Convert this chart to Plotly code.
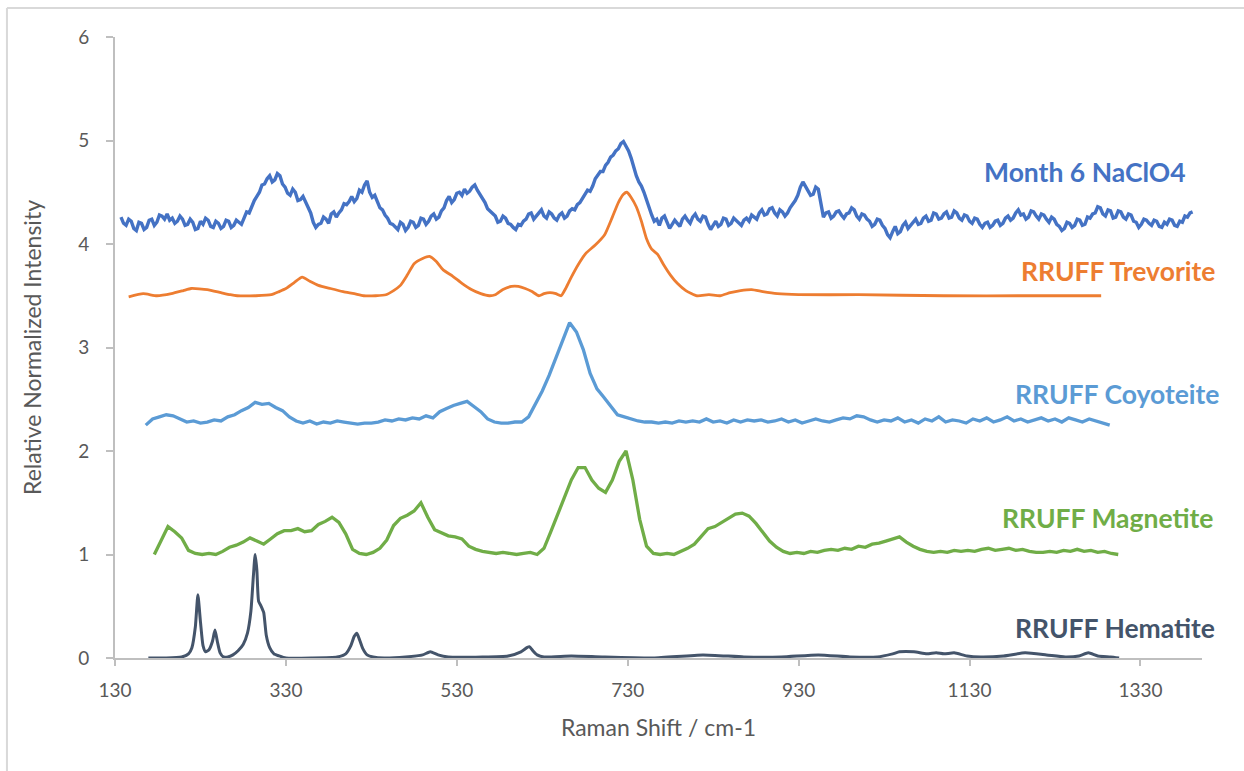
import numpy as np
import plotly.graph_objects as go

# ---------------- data ----------------
# Month 6 NaClO4 (sampled every 3 cm-1 from 137)
month6_x = list(range(137, 1392, 3))
month6_y = [
    4.26, 4.20, 4.18, 4.24, 4.22, 4.15, 4.13, 4.21, 4.20, 4.14, 4.16, 4.23, 4.24, 4.18, 4.21, 4.28, 4.27, 4.24, 4.29, 4.23,
    4.25, 4.20, 4.22, 4.27, 4.24, 4.18, 4.19, 4.24, 4.21, 4.14, 4.15, 4.22, 4.19, 4.25, 4.23, 4.17, 4.16, 4.22, 4.20, 4.15,
    4.17, 4.23, 4.22, 4.16, 4.18, 4.23, 4.21, 4.19, 4.25, 4.31, 4.30, 4.37, 4.42, 4.46, 4.50, 4.57, 4.58, 4.63, 4.66, 4.60,
    4.62, 4.68, 4.66, 4.58, 4.55, 4.49, 4.47, 4.53, 4.50, 4.42, 4.43, 4.46, 4.40, 4.36, 4.30, 4.21, 4.16, 4.19, 4.20, 4.26,
    4.24, 4.20, 4.29, 4.31, 4.26, 4.30, 4.33, 4.39, 4.38, 4.41, 4.46, 4.41, 4.44, 4.52, 4.50, 4.57, 4.61, 4.50, 4.45, 4.47,
    4.40, 4.35, 4.33, 4.28, 4.25, 4.20, 4.19, 4.17, 4.14, 4.21, 4.19, 4.13, 4.16, 4.22, 4.21, 4.16, 4.18, 4.25, 4.24, 4.19,
    4.22, 4.27, 4.29, 4.24, 4.26, 4.32, 4.35, 4.42, 4.46, 4.40, 4.43, 4.49, 4.50, 4.47, 4.53, 4.49, 4.51, 4.55, 4.57, 4.52,
    4.48, 4.45, 4.40, 4.34, 4.32, 4.29, 4.27, 4.21, 4.22, 4.27, 4.25, 4.20, 4.19, 4.16, 4.14, 4.19, 4.18, 4.22, 4.24, 4.29,
    4.30, 4.24, 4.27, 4.31, 4.33, 4.27, 4.25, 4.31, 4.29, 4.25, 4.23, 4.28, 4.30, 4.25, 4.27, 4.32, 4.34, 4.33, 4.38, 4.40,
    4.44, 4.49, 4.52, 4.51, 4.56, 4.63, 4.66, 4.70, 4.70, 4.76, 4.79, 4.84, 4.86, 4.90, 4.92, 4.97, 4.99, 4.95, 4.90, 4.83,
    4.74, 4.66, 4.60, 4.56, 4.50, 4.42, 4.36, 4.28, 4.22, 4.24, 4.18, 4.25, 4.27, 4.20, 4.15, 4.19, 4.23, 4.20, 4.17, 4.24,
    4.27, 4.23, 4.20, 4.26, 4.29, 4.24, 4.22, 4.27, 4.26, 4.19, 4.14, 4.18, 4.22, 4.17, 4.19, 4.25, 4.24, 4.18, 4.20, 4.25,
    4.23, 4.20, 4.18, 4.23, 4.25, 4.22, 4.28, 4.26, 4.24, 4.30, 4.33, 4.28, 4.29, 4.34, 4.35, 4.30, 4.27, 4.33, 4.31, 4.27,
    4.30, 4.35, 4.38, 4.42, 4.47, 4.55, 4.60, 4.56, 4.52, 4.47, 4.48, 4.55, 4.53, 4.38, 4.26, 4.30, 4.31, 4.25, 4.27, 4.31,
    4.32, 4.28, 4.25, 4.29, 4.30, 4.35, 4.33, 4.27, 4.24, 4.29, 4.28, 4.24, 4.22, 4.17, 4.19, 4.24, 4.23, 4.18, 4.15, 4.09,
    4.06, 4.12, 4.17, 4.10, 4.12, 4.18, 4.21, 4.15, 4.18, 4.22, 4.24, 4.19, 4.20, 4.25, 4.27, 4.22, 4.23, 4.30, 4.29, 4.24,
    4.25, 4.29, 4.31, 4.25, 4.26, 4.32, 4.30, 4.25, 4.23, 4.28, 4.27, 4.22, 4.20, 4.25, 4.24, 4.19, 4.16, 4.20, 4.21, 4.16,
    4.18, 4.22, 4.23, 4.18, 4.20, 4.25, 4.27, 4.23, 4.25, 4.30, 4.33, 4.28, 4.29, 4.24, 4.26, 4.32, 4.31, 4.27, 4.24, 4.29,
    4.28, 4.24, 4.21, 4.26, 4.24, 4.19, 4.17, 4.13, 4.15, 4.21, 4.20, 4.16, 4.18, 4.24, 4.23, 4.18, 4.19, 4.26, 4.25, 4.29,
    4.30, 4.36, 4.35, 4.29, 4.27, 4.33, 4.32, 4.25, 4.26, 4.32, 4.31, 4.26, 4.24, 4.29, 4.28, 4.22, 4.21, 4.16, 4.19, 4.24,
    4.23, 4.20, 4.18, 4.23, 4.22, 4.17, 4.16, 4.21, 4.19, 4.24, 4.23, 4.18, 4.17, 4.22, 4.21, 4.27, 4.26, 4.30, 4.31,
]

# RRUFF Trevorite
trevorite_x = [146, 163, 179, 196, 210, 219, 238, 254, 265, 273, 295, 313, 322, 330, 340,
               349, 358, 368, 382, 397, 410, 421, 435, 447, 456, 464, 472, 480, 490, 498,
               506, 514, 525, 536, 547, 558, 568, 575, 584, 594, 602, 610, 618, 626, 632,
               639, 646, 652, 658, 664, 672, 681, 692, 703, 712, 719, 725, 729, 734, 740,
               746, 752, 758, 765, 772, 780, 788, 798, 811, 825, 838, 850, 862, 875, 888,
               905, 930, 1000, 1100, 1200, 1284]
trevorite_y = [3.49, 3.52, 3.50, 3.52, 3.55, 3.57, 3.56, 3.53, 3.51, 3.50, 3.50, 3.51, 3.54, 3.57, 3.63,
               3.68, 3.64, 3.60, 3.57, 3.54, 3.52, 3.50, 3.50, 3.51, 3.55, 3.60, 3.70, 3.81, 3.86, 3.88,
               3.83, 3.75, 3.69, 3.62, 3.56, 3.52, 3.50, 3.51, 3.56, 3.59, 3.59, 3.57, 3.54, 3.50, 3.52,
               3.53, 3.52, 3.50, 3.58, 3.68, 3.80, 3.91, 3.99, 4.09, 4.26, 4.40, 4.48, 4.50, 4.45, 4.36,
               4.22, 4.05, 3.95, 3.90, 3.80, 3.70, 3.62, 3.55, 3.50, 3.51, 3.50, 3.53, 3.55, 3.56, 3.54,
               3.52, 3.51, 3.51, 3.50, 3.50, 3.50]

# RRUFF Coyoteite (sampled every 8 cm-1 from 166)
coyoteite_x = list(range(166, 1295, 8))
coyoteite_y = [
    2.25, 2.31, 2.33, 2.35, 2.34, 2.31, 2.28, 2.29, 2.27, 2.28,
    2.30, 2.29, 2.33, 2.35, 2.39, 2.42, 2.47, 2.45, 2.46, 2.42,
    2.39, 2.33, 2.29, 2.27, 2.29, 2.26, 2.28, 2.27, 2.29, 2.28,
    2.27, 2.26, 2.27, 2.27, 2.28, 2.30, 2.29, 2.31, 2.30, 2.32,
    2.31, 2.34, 2.32, 2.38, 2.41, 2.44, 2.46, 2.48, 2.43, 2.38,
    2.31, 2.28, 2.27, 2.27, 2.28, 2.28, 2.33, 2.45, 2.58, 2.73,
    2.90, 3.07, 3.24, 3.15, 2.98, 2.75, 2.60, 2.52, 2.44, 2.35,
    2.33, 2.31, 2.29, 2.28, 2.28, 2.27, 2.28, 2.27, 2.29, 2.28,
    2.29, 2.28, 2.31, 2.28, 2.29, 2.27, 2.30, 2.28, 2.30, 2.29,
    2.30, 2.28, 2.29, 2.31, 2.28, 2.30, 2.27, 2.29, 2.31, 2.29,
    2.28, 2.30, 2.32, 2.31, 2.34, 2.33, 2.30, 2.28, 2.30, 2.29,
    2.32, 2.28, 2.30, 2.27, 2.31, 2.29, 2.33, 2.28, 2.30, 2.29,
    2.27, 2.31, 2.29, 2.32, 2.28, 2.30, 2.33, 2.29, 2.31, 2.28,
    2.30, 2.32, 2.29, 2.31, 2.28, 2.32, 2.30, 2.28, 2.31, 2.29,
    2.27, 2.25,
]

# RRUFF Magnetite (sampled every 8 cm-1 from 176)
magnetite_x = list(range(176, 1305, 8))
magnetite_y = [
    1.00, 1.14, 1.27, 1.22, 1.16, 1.04, 1.01, 1.00, 1.01, 1.00,
    1.03, 1.07, 1.09, 1.12, 1.16, 1.13, 1.10, 1.15, 1.20, 1.23,
    1.23, 1.25, 1.22, 1.23, 1.29, 1.32, 1.36, 1.31, 1.20, 1.05,
    1.01, 1.00, 1.02, 1.06, 1.14, 1.28, 1.35, 1.38, 1.42, 1.50,
    1.36, 1.24, 1.21, 1.18, 1.17, 1.15, 1.08, 1.05, 1.03, 1.02,
    1.01, 1.02, 1.01, 1.00, 1.01, 1.02, 1.00, 1.06, 1.22, 1.38,
    1.56, 1.72, 1.84, 1.84, 1.72, 1.64, 1.60, 1.72, 1.90, 2.00,
    1.72, 1.34, 1.08, 1.01, 1.00, 1.01, 1.00, 1.03, 1.06, 1.10,
    1.18, 1.25, 1.27, 1.31, 1.35, 1.39, 1.40, 1.37, 1.30, 1.21,
    1.13, 1.07, 1.03, 1.01, 1.02, 1.01, 1.03, 1.02, 1.04, 1.05,
    1.04, 1.06, 1.05, 1.08, 1.07, 1.10, 1.11, 1.13, 1.15, 1.17,
    1.12, 1.08, 1.05, 1.03, 1.02, 1.03, 1.02, 1.04, 1.03, 1.04,
    1.03, 1.05, 1.06, 1.04, 1.05, 1.06, 1.04, 1.05, 1.03, 1.02,
    1.02, 1.03, 1.02, 1.04, 1.03, 1.05, 1.03, 1.04, 1.02, 1.03,
    1.01, 1.00,
]

# RRUFF Hematite
hematite_x = [169, 190, 208, 216, 220, 224, 227, 230, 233, 236, 240, 244, 247, 250, 253,
              257, 262, 268, 274, 280, 285, 289, 292, 294, 296, 298, 301, 304, 307, 311,
              316, 322, 330, 360, 390, 400, 406, 410, 413, 416, 420, 425, 432, 445, 470,
              490, 499, 508, 520, 560, 590, 605, 612, 615, 619, 624, 632, 664, 700, 760,
              818, 866, 910, 953, 990, 1022, 1040, 1048, 1065, 1080, 1091, 1100, 1112, 1127, 1143,
              1170, 1195, 1220, 1242, 1258, 1269, 1280, 1295, 1305]
hematite_y = [0.00, 0.00, 0.01, 0.04, 0.10, 0.30, 0.61, 0.35, 0.12, 0.06, 0.08, 0.16, 0.27, 0.15, 0.05,
              0.01, 0.01, 0.03, 0.07, 0.13, 0.24, 0.45, 0.80, 1.00, 0.85, 0.55, 0.50, 0.44, 0.22, 0.10,
              0.04, 0.02, 0.00, 0.00, 0.01, 0.04, 0.12, 0.21, 0.24, 0.18, 0.09, 0.03, 0.01, 0.00, 0.01,
              0.03, 0.06, 0.03, 0.01, 0.01, 0.02, 0.06, 0.10, 0.11, 0.07, 0.03, 0.01, 0.02, 0.01, 0.00,
              0.03, 0.01, 0.01, 0.03, 0.01, 0.01, 0.04, 0.06, 0.06, 0.04, 0.05, 0.04, 0.05, 0.02, 0.01,
              0.02, 0.05, 0.03, 0.01, 0.02, 0.05, 0.02, 0.01, 0.00]

x_ticks = [130, 330, 530, 730, 930, 1130, 1330]
y_ticks = [0, 1, 2, 3, 4, 5, 6]

labels = ["Month 6 NaClO4", "RRUFF Trevorite", "RRUFF Coyoteite", "RRUFF Magnetite", "RRUFF Hematite"]

# ---------------- figure ----------------
FONT = "Lato, 'Open Sans', sans-serif"
GREY = "#595959"
AXC = "#BFBFBF"

series = [
    (month6_x, month6_y, "#4472C4", 3.4, "linear"),
    (trevorite_x, trevorite_y, "#ED7D31", 2.8, "spline"),
    (coyoteite_x, coyoteite_y, "#5B9BD5", 3.3, "linear"),
    (magnetite_x, magnetite_y, "#70AD47", 3.3, "linear"),
    (hematite_x, hematite_y, "#44546A", 3.0, "spline"),
]

fig = go.Figure()
for (xs, ys, col, w, shp), name in zip(series, labels):
    line = dict(color=col, width=w, shape=shp)
    if shp == "spline":
        line["smoothing"] = 0.5
    fig.add_trace(go.Scatter(x=xs, y=ys, mode="lines", name=name, line=line,
                             showlegend=False, hoverinfo="x+y"))

ann_pos = [(0.9872, 0.7826), (1.0138, 0.6232), (1.0175, 0.4251), (1.0120, 0.2254), (1.0138, 0.0483)]
for (xs, ys, col, w, shp), name, (ax_, ay_) in zip(series, labels, ann_pos):
    fig.add_annotation(x=ax_, y=ay_, xref="paper", yref="paper", text="<b>%s</b>" % name,
                       showarrow=False, xanchor="right", yanchor="middle",
                       font=dict(family=FONT, size=26.5, color=col))

fig.update_layout(
    width=1244, height=771,
    margin=dict(l=115, r=42, t=37, b=113),
    paper_bgcolor="white", plot_bgcolor="white",
    font=dict(family=FONT, color=GREY),
    shapes=[
        dict(type="line", xref="paper", yref="paper", x0=-0.0994, x1=1.06, y0=1.0467, y1=1.0467,
             line=dict(color="#D9D9D9", width=2)),
        dict(type="line", xref="paper", yref="paper", x0=-0.0994, x1=-0.0994, y0=-0.19, y1=1.0467,
             line=dict(color="#D9D9D9", width=2)),
    ],
)
fig.update_xaxes(range=[130, 1402], tickvals=x_ticks, ticktext=[str(v) for v in x_ticks],
                 showgrid=False, zeroline=False, showline=True, linecolor=AXC, linewidth=2,
                 ticks="outside", ticklen=6, tickcolor=AXC, tickwidth=1.5,
                 tickfont=dict(family=FONT, size=19, color=GREY), ticklabelstandoff=8,
                 title=dict(text="Raman Shift / cm-1", font=dict(family=FONT, size=23, color=GREY), standoff=20))
fig.update_yaxes(range=[0, 6], tickvals=y_ticks, showgrid=False, zeroline=False,
                 showline=True, linecolor=AXC, linewidth=2,
                 ticks="outside", ticklen=7, tickcolor=AXC, tickwidth=1.5,
                 tickfont=dict(family=FONT, size=19, color=GREY), ticklabelstandoff=13,
                 title=dict(text="Relative Normalized Intensity", font=dict(family=FONT, size=23, color=GREY), standoff=30))

fig.write_html("out.html")
